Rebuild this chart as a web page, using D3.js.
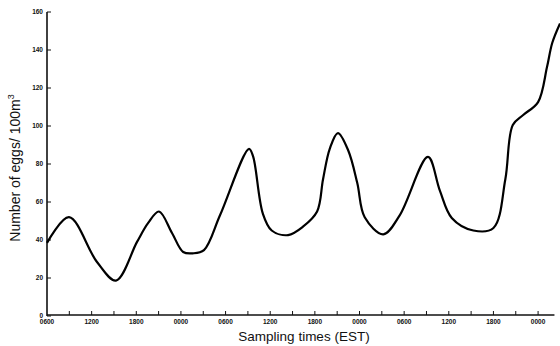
<!DOCTYPE html>
<html>
<head>
<meta charset="utf-8">
<script src="https://cdn.jsdelivr.net/npm/d3@7"></script>
<style>
  body { margin: 0; background: #fff; }
  svg { display: block; }
  .tick-label { font-family: "Liberation Sans", Arial, sans-serif; font-size: 6.5px; font-weight: bold; fill: #111; }
  .title { font-family: "Liberation Sans", Arial, sans-serif; fill: #111; }
</style>
</head>
<body>
<svg id="chart" width="560" height="346"></svg>
<script>
  // hours after the first 0600 sample
  const hours = [0, 2.96, 6.72, 9.27, 12.1, 13.6, 15.05, 16.8, 18.3, 19.6, 21.1, 23.25,
    27.15, 27.7, 29.0, 30.2, 32.4, 34.4, 36.3, 37.1, 38.0, 39.1, 40.5, 41.7, 42.7, 45.2,
    47.4, 51.2, 52.8, 54.4, 57.3, 60.0, 61.6, 62.6, 64.0, 66.0, 67.2, 67.9, 68.95];
  // eggs per 100 m3
  const eggs = [38.5, 52, 28.4, 18.6, 39, 49, 55, 43.7, 33.7, 33, 34.7, 53,
    88, 84, 54, 45, 42.6, 47, 55, 72, 88, 96.3, 87, 70, 52, 43,
    53, 83.7, 66, 51.6, 45, 46.3, 72, 100.5, 105.8, 112.6, 131, 143.7, 154];

  const yTicks = [0, 20, 40, 60, 80, 100, 120, 140, 160];
  const xTickLabels = ["0600", "1200", "1800", "0000", "0600", "1200",
    "1800", "0000", "0600", "1200", "1800", "0000"];

  const svg = d3.select("#chart");
  const x = d3.scaleLinear().domain([0, 69]).range([47, 560.4]);
  const y = d3.scaleLinear().domain([0, 160]).range([316, 12]);

  // axes
  svg.append("line")
    .attr("x1", x(0)).attr("x2", x(0)).attr("y1", y(0)).attr("y2", y(160))
    .attr("stroke", "#111").attr("stroke-width", 1.6);
  svg.append("line")
    .attr("x1", x(0)).attr("x2", x(68.2)).attr("y1", y(0) - 1).attr("y2", y(0) - 1)
    .attr("stroke", "#111").attr("stroke-width", 1.6);

  // y ticks point inward
  yTicks.forEach(v => {
    svg.append("line")
      .attr("x1", x(0)).attr("x2", x(0) + 4)
      .attr("y1", y(v)).attr("y2", y(v))
      .attr("stroke", "#111").attr("stroke-width", 1);
    svg.append("text")
      .attr("class", "tick-label")
      .attr("x", x(0) - 4).attr("y", y(v) + 2.3)
      .attr("text-anchor", "end")
      .text(v);
  });

  // x ticks every 3 h, labels every 6 h
  d3.range(3, 67, 3).forEach(h => {
    svg.append("line")
      .attr("x1", x(h)).attr("x2", x(h))
      .attr("y1", y(0) - 1).attr("y2", y(0) - 5)
      .attr("stroke", "#111").attr("stroke-width", 1);
  });
  xTickLabels.forEach((lab, i) => {
    svg.append("text")
      .attr("class", "tick-label")
      .attr("x", x(i * 6)).attr("y", y(0) + 8)
      .attr("text-anchor", "middle")
      .text(lab);
  });

  // titles
  svg.append("text")
    .attr("class", "title")
    .attr("font-size", 13.5)
    .attr("x", 304).attr("y", 341)
    .attr("text-anchor", "middle")
    .text("Sampling times (EST)");
  svg.append("text")
    .attr("class", "title")
    .attr("font-size", 14)
    .attr("transform", "translate(20,168) rotate(-90)")
    .attr("text-anchor", "middle")
    .html('Number of eggs/ 100m<tspan dy="-6" font-size="9">3</tspan>');

  // curve
  const line = d3.line()
    .x((d, i) => x(hours[i]))
    .y(d => y(d))
    .curve(d3.curveCatmullRom.alpha(0.5));
  svg.append("path")
    .datum(eggs)
    .attr("d", line)
    .attr("fill", "none")
    .attr("stroke", "#000")
    .attr("stroke-width", 2.2)
    .attr("stroke-linejoin", "round");
</script>
</body>
</html>
